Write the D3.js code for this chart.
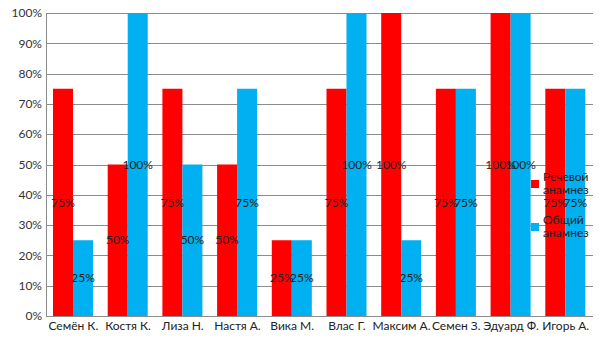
<!DOCTYPE html>
<html><head><meta charset="utf-8">
<script src="https://cdn.jsdelivr.net/npm/d3@7"></script>
<style>body{margin:0;background:#fff}svg{display:block;font-family:Lato,"DejaVu Sans",sans-serif}</style>
</head><body>
<svg id="c" width="605" height="340"></svg>
<script>
const categories = ["Семён К.","Костя К.","Лиза Н.","Настя А.","Вика М.","Влас Г.","Максим А.","Семен З.","Эдуард Ф.","Игорь А."];
const speech = [75,50,75,50,25,75,100,75,100,75];
const general = [25,100,50,75,25,100,25,75,100,75];
const seriesNames = ["Речевой анамнез","Общий анамнез"];
const seriesColors = ["#ff0000","#00b0f0"];
const yTicks = [0,10,20,30,40,50,60,70,80,90,100];

const svg = d3.select("#c");
const m = {l:46, r:12, t:13, b:24};
const W = 605, H = 340;
const x = d3.scaleBand().domain(categories).range([m.l, W-m.r]).paddingInner(0).paddingOuter(0);
const y = d3.scaleLinear().domain([0,100]).range([H-m.b, m.t]);
const bw = 20, off = 7;

// gridlines
svg.append("g").selectAll("line").data(yTicks).join("line")
  .attr("x1", m.l).attr("x2", W-m.r)
  .attr("y1", d=>Math.round(y(d))+0.5).attr("y2", d=>Math.round(y(d))+0.5)
  .attr("stroke","#8c8c8c").attr("stroke-width",1);

// y tick labels
svg.append("g").selectAll("text").data(yTicks).join("text")
  .attr("x", m.l-4).attr("y", d=>y(d)).attr("dy","0.35em")
  .attr("text-anchor","end").attr("font-size",12).attr("fill","#333")
  .text(d=>d+"%");

const series = [speech, general];
series.forEach((vals, si) => {
  svg.append("g").selectAll("rect").data(vals).join("rect")
    .attr("x", (d,i)=>x(categories[i]) + off + si*bw)
    .attr("y", d=>y(d)).attr("width", bw)
    .attr("height", d=>y(0)-y(d))
    .attr("fill", seriesColors[si]);
});

// axes lines
svg.append("line").attr("x1",m.l+0.5).attr("x2",m.l+0.5).attr("y1",m.t).attr("y2",y(0))
  .attr("stroke","#8c8c8c");
svg.append("line").attr("x1",m.l).attr("x2",W-m.r).attr("y1",Math.round(y(0))+0.5).attr("y2",Math.round(y(0))+0.5)
  .attr("stroke","#8c8c8c");

// x labels
svg.append("g").selectAll("text").data(categories).join("text")
  .attr("x", d=>x(d)+x.bandwidth()/2).attr("y", H-10)
  .attr("text-anchor","middle").attr("font-size",12).attr("fill","#222")
  .text(d=>d);

// value labels
series.forEach((vals, si) => {
  svg.append("g").selectAll("text").data(vals).join("text")
    .attr("x", (d,i)=>x(categories[i]) + off + si*bw + bw/2)
    .attr("y", d=>(y(d)+y(0))/2).attr("dy","0.35em")
    .attr("text-anchor","middle").attr("font-size",12).attr("fill","#222")
    .text(d=>d+"%");
});

// legend
const leg = svg.append("g");
const legY = [180, 223];
seriesNames.forEach((n, i) => {
  leg.append("rect").attr("x",531).attr("y",legY[i]).attr("width",8).attr("height",8).attr("fill",seriesColors[i]);
  const parts = n.split(" ");
  const t = leg.append("text").attr("font-size",12).attr("fill","#222");
  parts.forEach((p, j) => {
    t.append("tspan").attr("x",543).attr("y", legY[i] + 1 + j*13).text(p);
  });
});
</script>
</body></html>
